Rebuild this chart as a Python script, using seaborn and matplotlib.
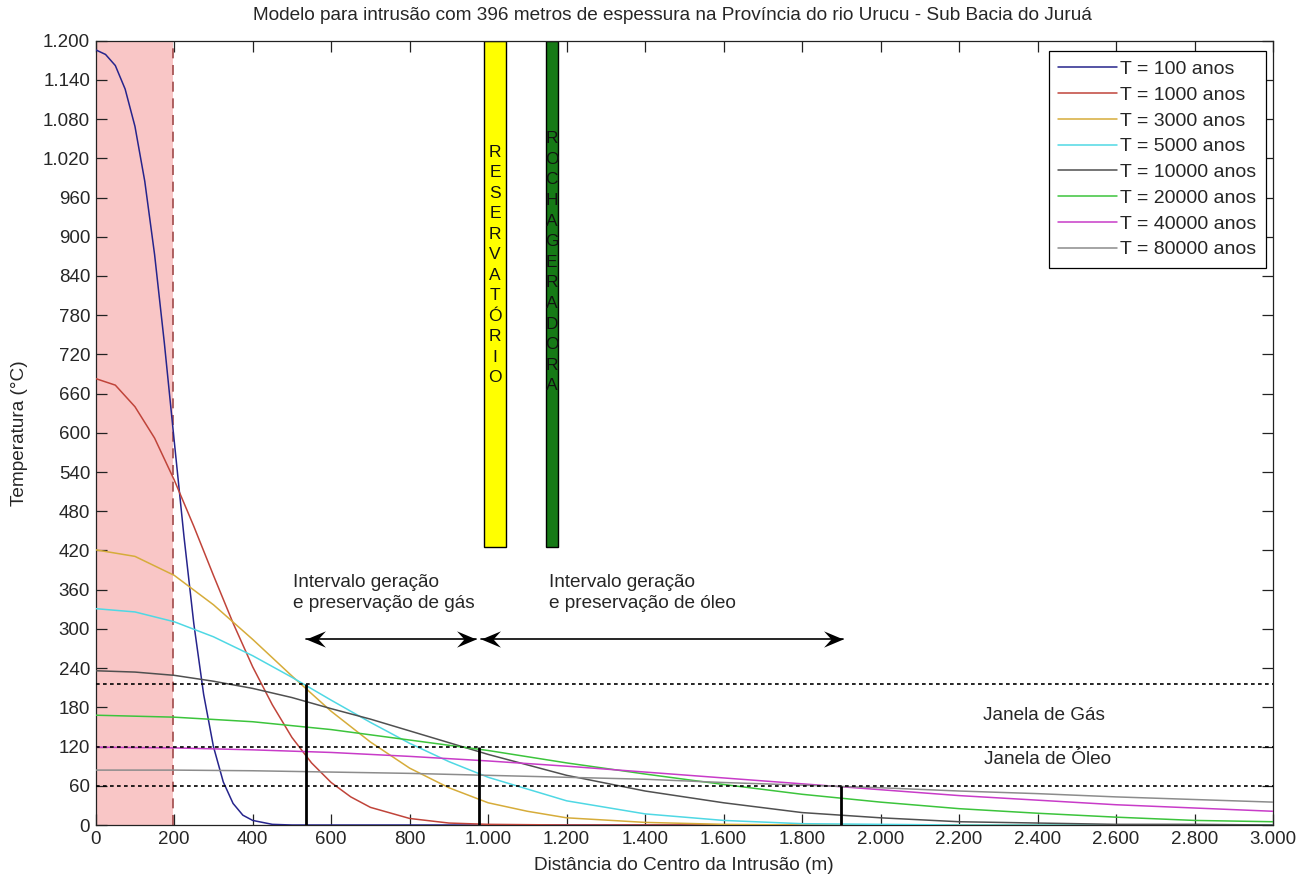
import numpy as np
import pandas as pd
import matplotlib
matplotlib.use("Agg")
import matplotlib.pyplot as plt
from matplotlib.path import Path
from matplotlib.ticker import MultipleLocator, FuncFormatter
import seaborn as sns

# ---------------- data ----------------
labels = ["T = 100 anos", "T = 1000 anos", "T = 3000 anos", "T = 5000 anos",
          "T = 10000 anos", "T = 20000 anos", "T = 40000 anos", "T = 80000 anos"]

x_t100 = [0, 25, 50, 75, 100, 125, 150, 175, 200, 225, 250, 275, 300, 325, 350, 375, 400, 450, 500, 3000]
y_t100 = [1186, 1179, 1162, 1126, 1069, 985, 873, 737, 588, 441, 308, 200, 120, 66, 33, 15, 7, 1, 0, 0]

x_t1000 = [0, 50, 100, 150, 200, 250, 300, 350, 400, 450, 500, 550, 600, 650, 700, 800, 900, 1000, 1200, 3000]
y_t1000 = [683, 673, 640, 592, 528, 457, 382, 309, 242, 184, 134, 95, 65, 43, 27, 10, 3, 1, 0, 0]

x_t3000 = [0, 100, 200, 300, 400, 500, 600, 700, 800, 900, 1000, 1100, 1200, 1400, 1600, 1800, 3000]
y_t3000 = [421, 411, 382, 337, 284, 228, 174, 127, 87, 57, 34, 21, 11, 4, 1, 0, 0]

x_t5000 = [0, 100, 200, 300, 400, 500, 600, 700, 800, 900, 1000, 1200, 1400, 1600, 1800, 2000, 2200, 3000]
y_t5000 = [331, 326, 311, 288, 259, 226, 191, 157, 125, 97, 73, 37, 17, 7, 2, 1, 0, 0]

x_t10000 = [0, 100, 200, 300, 400, 500, 600, 700, 800, 900, 1000, 1200, 1400, 1600, 1800, 2000, 2200, 2400, 2600, 2800, 3000]
y_t10000 = [236, 234, 229, 220, 209, 195, 178, 162, 144, 126, 108, 76, 52, 34, 19, 11, 5, 3, 1, 1, 0]

x_long = [0, 200, 400, 600, 800, 1000, 1200, 1400, 1600, 1800, 2000, 2200, 2400, 2600, 2800, 3000]
y_t20000 = [168, 165, 158, 146, 130, 114, 95, 78, 62, 47, 35, 25, 18, 12, 7, 5]
y_t40000 = [119, 118, 115, 111, 105, 98, 90, 81, 72, 63, 54, 45, 38, 31, 26, 21]
y_t80000 = [84, 84, 83, 81, 79, 76, 73, 70, 65, 61, 57, 52, 48, 43, 39, 35]

colors = ["#26248c", "#c0443a", "#d6ac3a", "#4fd8e4",
          "#505050", "#3cc43c", "#c83cc8", "#8c8c8c"]

intrusion_half = 198                 # half-thickness of the intrusion (m)
window_levels = [60, 120, 215]       # dashed window limits (°C)
marker_x = [535, 977, 1900]          # vertical black markers
marker_top = [215, 120, 60]
bar_names = ["RESERVATÓRIO", "ROCHAGERADORA"]
bar_left = [990, 1147]
bar_right = [1045, 1177]
bar_bottom = 425
bar_colors = ["#ffff00", "#167a16"]
gas_arrow = [535, 970]
oil_arrow = [981, 1905]
arrow_y = 285

# ---------------- build long-form frame ----------------
xs = [x_t100, x_t1000, x_t3000, x_t5000, x_t10000, x_long, x_long, x_long]
ys = [y_t100, y_t1000, y_t3000, y_t5000, y_t10000, y_t20000, y_t40000, y_t80000]
frames = [pd.DataFrame({"x": x, "temp": y, "serie": lab}) for x, y, lab in zip(xs, ys, labels)]
df = pd.concat(frames, ignore_index=True)

# ---------------- figure ----------------
sns.set_style("ticks")
plt.rcParams["font.family"] = ["Liberation Sans", "DejaVu Sans"]

fig = plt.figure(figsize=(13, 8.75), dpi=100)
ax = fig.add_axes([0.07362, 0.05714, 0.90562, 0.89634])

ax.axvspan(0, intrusion_half, color="#f9c6c6", lw=0, zorder=0)
ax.plot([intrusion_half, intrusion_half], [0, 1200], color="#a04a4a",
        lw=1.2, ls=(0, (6, 4)), zorder=1)

sns.lineplot(data=df, x="x", y="temp", hue="serie", hue_order=labels,
             palette=colors, sort=False, estimator=None, linewidth=1.1,
             ax=ax, legend=True, zorder=3)

for lvl in window_levels:
    ax.plot([0, 3000], [lvl, lvl], color="black", lw=1.2, ls=(0, (2.2, 2.0)), zorder=4)

ax.vlines(marker_x, 0, marker_top, colors="black", lw=2.0, zorder=5)

widths = [r - l for l, r in zip(bar_left, bar_right)]
ax.bar(bar_left, [1200 - bar_bottom] * 2, width=widths, bottom=bar_bottom,
       align="edge", color=bar_colors, edgecolor="black", linewidth=1.0, zorder=2)

# stacked letters inside the bars
for name, l, r, top, step in zip(bar_names, bar_left, bar_right, [1029, 1050], [31.3, 31.5]):
    cx = (l + r) / 2
    for i, ch in enumerate(name):
        ax.text(cx, top - i * step, ch, ha="center", va="center",
                fontsize=12.5, color="#111111", zorder=6)

# arrows with swept-back heads
head_r = Path([(0, 0), (-1, 0.42), (-0.62, 0), (-1, -0.42), (0, 0)],
              [Path.MOVETO, Path.LINETO, Path.LINETO, Path.LINETO, Path.CLOSEPOLY])
head_l = Path([(0, 0), (1, 0.42), (0.62, 0), (1, -0.42), (0, 0)],
              [Path.MOVETO, Path.LINETO, Path.LINETO, Path.LINETO, Path.CLOSEPOLY])
for a in (gas_arrow, oil_arrow):
    ax.plot(a, [arrow_y, arrow_y], color="black", lw=1.2, zorder=6)
    ax.plot([a[1]], [arrow_y], marker=head_r, ms=28, color="black", mew=0, zorder=7)
    ax.plot([a[0]], [arrow_y], marker=head_l, ms=28, color="black", mew=0, zorder=7)

FS = 13.7
ax.text(502, 355, "Intervalo geração\ne preservação de gás", fontsize=FS,
        ha="left", va="center", linespacing=1.25, zorder=6)
ax.text(1155, 355, "Intervalo geração\ne preservação de óleo", fontsize=FS,
        ha="left", va="center", linespacing=1.25, zorder=6)
ax.text(2261, 168, "Janela de Gás", fontsize=FS, ha="left", va="center", zorder=6)
ax.text(2264, 100, "Janela de Óleo", fontsize=FS, ha="left", va="center", zorder=6)

# axes formatting
ax.set_xlim(0, 3000)
ax.set_ylim(0, 1200)
ax.xaxis.set_major_locator(MultipleLocator(200))
ax.yaxis.set_major_locator(MultipleLocator(60))
fmt = FuncFormatter(lambda v, p: f"{int(round(v)):,}".replace(",", "."))
ax.xaxis.set_major_formatter(fmt)
ax.yaxis.set_major_formatter(fmt)
ax.tick_params(direction="in", length=8, width=0.9, top=True, right=True,
               labelsize=13.5, color="#222222", pad=4)
for s in ax.spines.values():
    s.set_color("#222222")
    s.set_linewidth(0.9)
ax.set_xlabel("")
ax.set_ylabel("")

handles, labs = ax.get_legend_handles_labels()
leg = ax.legend(handles, labs, loc="upper right", bbox_to_anchor=(0.9938, 0.9873),
                frameon=True, fancybox=False, edgecolor="black", framealpha=1,
                fontsize=14, handlelength=3.0, handletextpad=0.15,
                labelspacing=0.42, borderpad=0.5, borderaxespad=0)
leg.get_frame().set_linewidth(0.9)
for h in leg.get_lines():
    h.set_linewidth(1.1)

fig.text(672 / 1300, 1 - 15 / 875, "Modelo para intrusão com 396 metros de espessura na Província do rio Urucu - Sub Bacia do Juruá",
         ha="center", va="center", fontsize=FS)
fig.text(20 / 1300, 1 - 433 / 875, "Temperatura (°C)", rotation=90,
         ha="center", va="center", fontsize=FS)
fig.text(684 / 1300, 1 - 865 / 875, "Distância do Centro da Intrusão (m)",
         ha="center", va="center", fontsize=FS)

fig.savefig("out.png", dpi=100)
